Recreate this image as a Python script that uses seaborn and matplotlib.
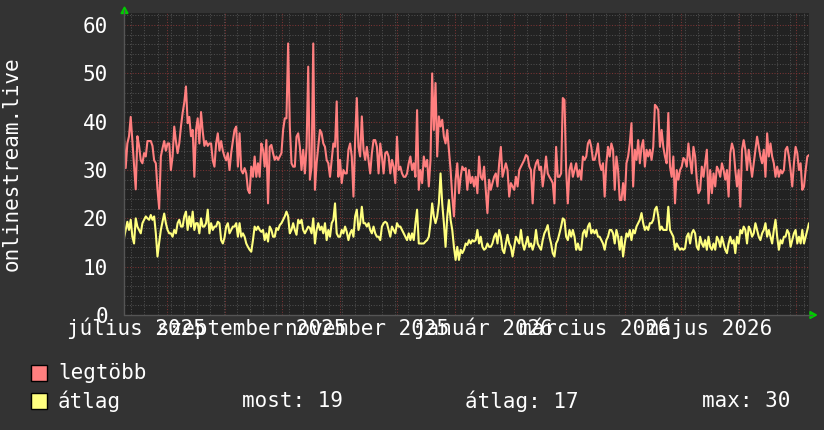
import matplotlib
matplotlib.use("Agg")
import numpy as np
import pandas as pd
import matplotlib.pyplot as plt
import matplotlib.dates as mdates
from matplotlib.ticker import MultipleLocator
from matplotlib.patches import Rectangle, Polygon
from matplotlib.lines import Line2D
import seaborn as sns

# ---------------- data ----------------
series_names = ["legtöbb", "átlag"]
series_colors = ["#ff7f7f", "#ffff7f"]

legtobb = [
    37, 30.4, 35.5, 37, 41, 36, 31, 26, 37, 35, 32, 31.4, 33.5, 32.8, 36, 36, 36, 35, 32, 31.4,
    26, 22, 32.8, 34.5, 36, 34, 35.5, 35.5, 30, 32.8, 39, 36, 33.5, 35.5, 39, 41.8, 44, 47.3, 39.7, 41,
    37, 38.3, 28.6, 38.3, 40.7, 35.5, 42, 38, 35, 36, 35, 35.5, 35.5, 32, 30.7, 35.5, 37.6, 34, 36, 34,
    32.8, 32, 33.5, 30, 33.5, 36, 38.3, 39,
    30.7, 37.6, 30, 29.3, 30.4, 29.3, 25.9, 25.2, 30.7, 28.6, 32.8, 28.6, 31.4, 28.6, 35.5, 34.2, 30.7, 36.2, 23.1, 34.8,
    35.2, 33.5, 32.1, 32.8, 32.1, 32.8, 33.5, 38.3, 40.7, 40.7, 56.2, 39, 31.4, 30.7, 30.7, 36.9, 37.6, 34.8, 30, 34.2,
    29.3, 34.8, 51.4, 28, 30.7, 56.2, 25.9, 31.4, 34.8, 38.3, 37.6, 35.5, 34.8, 32.1, 31.4, 28.6, 32.1, 35.5, 34.8, 44.2,
    28.6, 32.1, 27.3, 30, 29.3, 29.3,
    34.2, 35.5, 32.8, 24.5, 36.2, 44.9, 34.8, 32.8, 41.1, 34.2, 32.1, 34.8, 32.1, 29.3, 33.5, 36.2, 36.2, 34.8, 29.3, 35.5,
    32.8, 29.3, 33.5, 33.8, 32.8, 29.3, 32.1, 30.7, 27.3, 36.9, 30, 30.7, 29.3, 28.6, 28.6, 29.3, 31.4, 32.8, 30, 31.4,
    28.6, 42.4, 25.9, 30, 27.3, 32.8, 30.7, 32.1, 26.6, 32.1, 50, 38.3, 48, 32.8, 41.1, 39, 40.4, 36.9, 35.5, 38.3,
    34.2, 30, 24.5, 20.4, 28, 31.4, 25.2, 28.6, 30.7, 30,
    30.4, 25.9, 30, 27.3, 28.6, 26.6, 28.6, 25.2, 32.8, 28.6, 28, 30.7, 25.9, 21.1, 28, 25.9, 27.3, 28.6, 29.3, 26.6,
    31.4, 34.8, 28.6, 30, 31.4, 30, 24.5, 27.3, 26.6, 25.9, 28.6, 26.6, 30, 30.7, 31.4, 32.1, 33.1, 32.8, 30.7, 30,
    23.1, 30, 31.4, 32.1, 30, 30.7, 26.6, 29.3, 32.8, 29.3, 28.6, 28, 27.3, 23.1, 34.8, 28.6, 28.6, 29.3, 44.9, 44.5,
    30, 23.1, 30, 31.4, 28.6, 30, 31.4, 28.6, 30,
    28, 32.8, 32.1, 32.8, 35.5, 36.2, 34.8, 32.1, 32.1, 33.5, 35.5, 31.4, 30, 31.4, 24.5, 31.4, 34.8, 32.8, 35.5, 34.2,
    25.9, 32.8, 30, 23.8, 23.8, 27.3, 23.8, 31.4, 32.8, 35.5, 39.7, 26.6, 34.2, 32.1, 36.2, 31.4, 34.8, 36.2, 30.7, 34.2,
    32.8, 34.2, 32.1, 34.8, 43.5, 43.1, 42.4, 34.8, 38.3, 34.8, 32.8, 31.4, 41.8, 30.7, 28.6, 32.8, 23.1, 30, 28, 30,
    30.7, 32.5, 32.1, 30.7, 35.5, 32.1, 29.3, 34.8, 32.8,
    28, 25.2, 25.9, 30.7, 28.6, 31.4, 34.2, 23.1, 30, 25.2, 29.3, 26.6, 30.7, 30, 28.6, 31.4, 30, 28, 30, 24.5,
    33.5, 35.5, 34.2, 30, 26.6, 30, 22.4, 34.2, 36.2, 34.2, 30, 34.2, 31.4, 28.6, 31.4, 34.2, 36.9, 34.8, 32.8, 31.4,
    34.2, 28.6, 37.6, 32.8, 35.5, 32.8, 31.4, 28.6, 30.7, 28.6, 30, 29.3, 30, 34.2, 34.8, 32.8, 30, 26.6, 31.4, 34.8,
    33.5, 30, 31.4, 25.9, 26.6, 30, 32.8, 33.1,
]

atlag = [
    15.9, 17.6, 19.3, 17.6, 19.7, 16.2, 14.8, 20, 18.3, 17.6, 16.9, 19, 19.7, 20.4, 20, 19.7, 20.7, 19.7, 20.4, 16.9,
    12.1, 15, 17.6, 19.3, 21, 19, 17.6, 16.9, 16.9, 16.2, 17.6, 16.9, 19, 19.7, 18.3, 18.3, 20.4, 21.4, 17.6, 20.4,
    18.3, 21.4, 17.6, 19, 19, 16.9, 20, 18.3, 18.3, 19, 21.8, 16.9, 19, 17.6, 18.3, 18.3, 19.3, 19, 15.5, 14.8,
    16, 18.3, 19, 16.9, 17.6, 18.3, 18.3, 19,
    16.2, 19, 16.2, 16.9, 16.2, 14.8, 14.1, 13.5, 13.1, 15.5, 18.3, 17.6, 18.3, 17.6, 17.2, 17.6, 15.5, 16.9, 15.2, 18.3,
    17.6, 16.2, 16.2, 18, 17.6, 18.6, 19, 19.7, 20.4, 21.4, 20.4, 16.9, 17.6, 19, 17.6, 16.6, 19.7, 19, 19.7, 17.6,
    16.9, 17.6, 18.3, 18, 16.9, 20, 14.8, 17.6, 19, 17.6, 18.3, 16.9, 19, 15.5, 17.6, 16.2, 19, 19.7, 23.1, 16.9,
    16.2, 16.2, 17.6, 16.9, 18.3, 17.2,
    15.5, 16.9, 17.6, 16.2, 20.4, 21.8, 17.6, 19, 22.4, 19, 19, 18.3, 19, 17.6, 16.9, 18.3, 16.9, 16.2, 16.2, 15.5,
    18.3, 19, 19.3, 19, 17.6, 16.2, 18.3, 17.6, 16.9, 19, 18.3, 18.3, 17.6, 16.9, 16.2, 15.5, 16.9, 15.5, 16.9, 15.5,
    19, 21.8, 14.8, 14.8, 14.8, 14.8, 15.2, 15.5, 16.2, 19, 23.1, 20.4, 19, 20.4, 23.1, 29.3, 23.1, 19, 14.1, 20.4,
    23.8, 19.7, 17.6, 14.1, 11.4, 14.1, 11.4, 13.5, 12.8, 13.5,
    14.8, 14.5, 15.5, 14.8, 15.5, 15.2, 15.5, 17.6, 14.8, 16.2, 14.1, 13.5, 13.8, 14.8, 14.1, 14.1, 14.8, 16.2, 16.9, 14.8,
    17.6, 16.2, 13.5, 12.8, 14.8, 16.6, 14.8, 14.1, 12.1, 14.1, 16.2, 15.5, 14.8, 17.6, 14.8, 13.5, 14.8, 16.2, 14.1, 14.8,
    13.5, 14.8, 17.6, 14.8, 14.1, 13.5, 15.5, 16.9, 17.6, 18.6, 16.2, 14.8, 12.8, 12.1, 14.8, 15.5, 16.9, 18.3, 20, 19.7,
    16.2, 15.5, 17.6, 16.2, 17.6, 16.2, 13.5, 14.8, 13.5,
    13.5, 16.9, 17.6, 16.2, 18.3, 19, 16.9, 17.6, 16.9, 17.6, 16.2, 16.2, 15.5, 14.8, 13.5, 15.5, 16.2, 17.6, 17.6, 16.9,
    14.8, 17.6, 16.2, 13.5, 16.2, 12.1, 14.8, 16.9, 16.2, 17.6, 15.5, 17.6, 16.9, 18.3, 19, 19.7, 21.1, 19, 17.6, 18.3,
    17.6, 19, 19, 19.7, 21.8, 22.4, 20.4, 17.6, 18.3, 17.6, 17.6, 17.6, 22.4, 17.6, 16.9, 16.2, 13.5, 14.8, 14.1, 13.5,
    13.8, 13.5, 13.8, 16.2, 16.9, 14.8, 16.9, 17.6, 16.9,
    14.1, 13.5, 16.2, 14.8, 14.1, 15.5, 13.5, 16.2, 14.1, 13.5, 14.8, 13.5, 16.2, 15.5, 14.1, 16.2, 14.8, 13.5, 12.8, 14.8,
    16.2, 14.8, 15.5, 12.8, 16.2, 14.8, 17.6, 16.9, 18.3, 17.6, 14.8, 18.3, 17.6, 16.2, 16.9, 19, 17.6, 16.2, 15.5, 16.9,
    17.6, 19, 16.2, 17.6, 16.2, 14.8, 17.6, 19.7, 16.2, 13.5, 15.5, 14.8, 16.2, 16.2, 17.6, 16.9, 14.1, 15.5, 16.9, 17.6,
    14.8, 16.2, 14.8, 17.6, 14.8, 16.2, 17.6, 19,
]

time_start = "2025-07-09 03:30"
time_end = "2026-07-07 22:00"

xtick_dates = ["2025-07-16", "2025-09-15", "2025-11-15", "2026-01-16", "2026-03-16", "2026-05-16"]
xtick_labels = ["július 2025", "szeptember 2025", "november 2025", "január 2026", "március 2026", "május 2026"]

y_label = "onlinestream.live"
stat_labels = ["most:", "átlag:", "max:"]
stat_values = [19, 17, 30]

# ---------------- styling ----------------
sns.set_theme(style="dark")
plt.rcParams["font.family"] = ["DejaVu Sans Mono", "DejaVu Sans"]

BG = "#333333"
CANVAS = "#222222"
FS = 15
W, H = 824, 430

def fx(px):
    return px / W

def fy(py):
    return 1 - py / H

fig = plt.figure(figsize=(W / 100, H / 100), dpi=100, facecolor=BG)
L, R, T, B = 124, 809, 13, 315
ax = fig.add_axes([fx(L), fy(B), (R - L) / W, (B - T) / H])
ax.set_facecolor(CANVAS)

t = pd.date_range(pd.Timestamp(time_start), pd.Timestamp(time_end), periods=len(legtobb))
t2 = pd.date_range(pd.Timestamp(time_start), pd.Timestamp(time_end), periods=len(atlag))
df = pd.concat([
    pd.DataFrame({"t": t, "v": legtobb, "s": series_names[0]}),
    pd.DataFrame({"t": t2, "v": atlag, "s": series_names[1]}),
])
sns.lineplot(data=df, x="t", y="v", hue="s", palette=dict(zip(series_names, series_colors)),
             linewidth=1.5, ax=ax, legend=False, zorder=3)

ax.set_xlim(pd.Timestamp(time_start), pd.Timestamp(time_end))
ax.set_ylim(0, 62.5)

ax.xaxis.set_major_locator(mdates.MonthLocator())
ax.xaxis.set_minor_locator(mdates.WeekdayLocator(byweekday=mdates.SU))
ax.yaxis.set_major_locator(MultipleLocator(10))
ax.yaxis.set_minor_locator(MultipleLocator(2))
ax.set_axisbelow(True)
ax.grid(which="minor", color="#4e4e4e", linestyle=(0, (1, 1.6)), linewidth=0.75)
ax.grid(which="major", color="#7a3434", linestyle=(0, (1, 1.6)), linewidth=0.75)
ax.tick_params(which="both", length=0)
ax.tick_params(axis="x", labelbottom=False)
ax.tick_params(axis="y", labelsize=FS, labelcolor="white", pad=11.5)
for lab in ax.get_yticklabels():
    lab.set_family("DejaVu Sans Mono")
ax.set_xlabel("")
ax.set_ylabel("")
for sp in ax.spines.values():
    sp.set_visible(False)

# x labels
for d, lab in zip(xtick_dates, xtick_labels):
    ax.text(pd.Timestamp(d), -(335 - B) / (B - T), lab, transform=ax.get_xaxis_transform(),
            ha="center", va="baseline", fontsize=FS, color="white", clip_on=False)

# axes lines and arrows
fig.add_artist(Line2D([fx(L), fx(812)], [fy(B), fy(B)], color="#555555", linewidth=1))
fig.add_artist(Line2D([fx(L), fx(L)], [fy(B), fy(10)], color="#555555", linewidth=1))
fig.add_artist(Polygon([(fx(121), fy(13.5)), (fx(128), fy(13.5)), (fx(124.5), fy(7))],
                       closed=True, color="#00cc00", transform=fig.transFigure))
fig.add_artist(Polygon([(fx(810), fy(311.5)), (fx(810), fy(318.5)), (fx(816.5), fy(315))],
                       closed=True, color="#00cc00", transform=fig.transFigure))

# y label
fig.text(fx(12), fy(164), y_label, rotation=90, ha="center", va="center", fontsize=FS, color="white")

# legend
rows_y = [373, 401]
for name, col, yy in zip(series_names, series_colors, rows_y):
    fig.add_artist(Rectangle((fx(31.5), fy(yy + 8)), 15.5 / W, 16 / H, facecolor=col,
                             edgecolor="black", linewidth=1, transform=fig.transFigure))
    fig.text(fx(58), fy(yy), name, ha="left", va="center", fontsize=FS, color="white")

stat_x = [242, 465, 701.5]
for sx, sl, sv in zip(stat_x, stat_labels, stat_values):
    fig.text(fx(sx), fy(rows_y[1]), f"{sl} {sv}", ha="left", va="center", fontsize=FS, color="white")

fig.savefig("out.png", dpi=100, facecolor=BG)
